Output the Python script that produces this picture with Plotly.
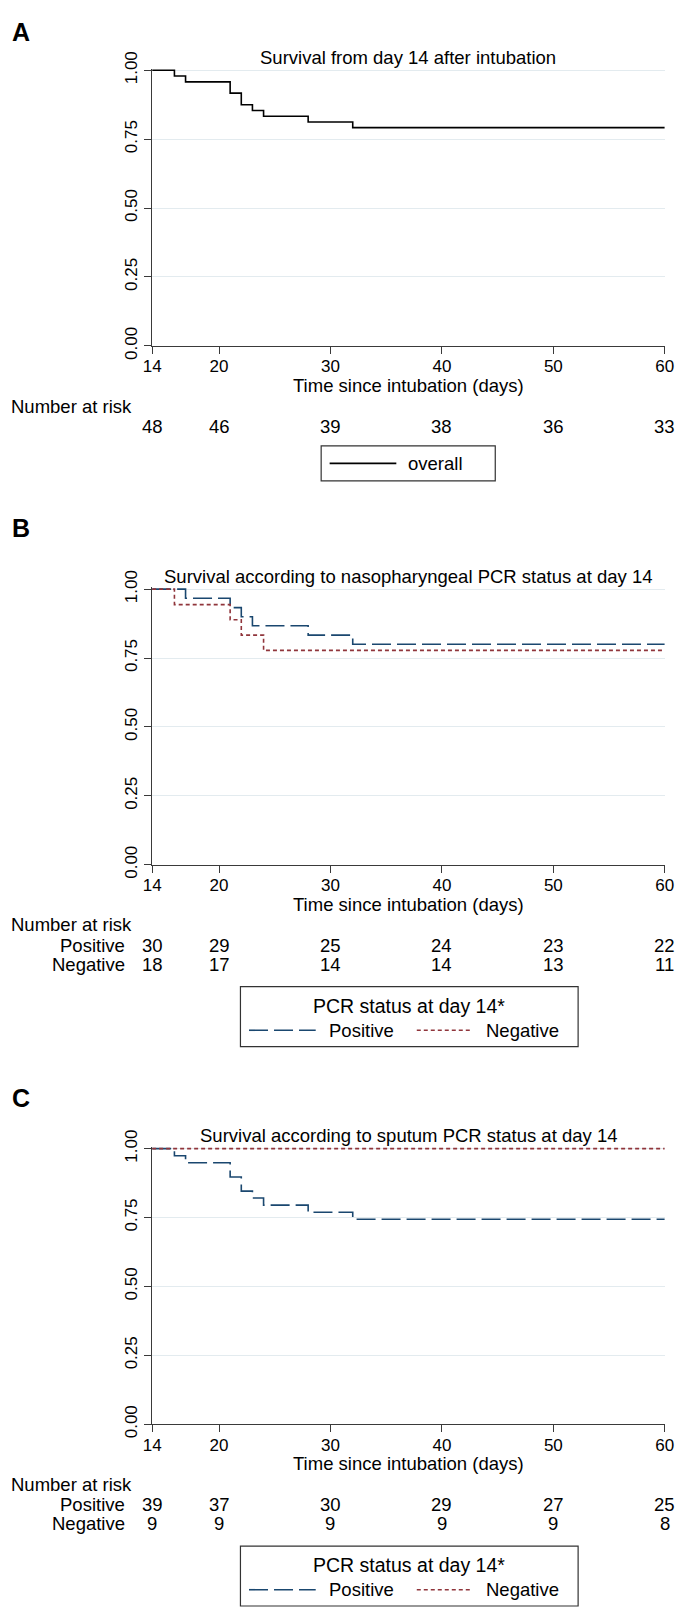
import plotly.graph_objects as go

W, H = 684, 1621

# ---------------- data ----------------
days_a = [14, 16, 17, 21, 22, 23, 24, 28, 32, 60]
surv_a = [1.0, 0.979, 0.958, 0.917, 0.875, 0.854, 0.833, 0.8125, 0.792, 0.792]

days_b_pos = [14, 17, 21, 22, 23, 28, 32, 60]
surv_b_pos = [1.0, 0.967, 0.933, 0.900, 0.867, 0.833, 0.800, 0.800]
days_b_neg = [14, 16, 21, 22, 24, 60]
surv_b_neg = [1.0, 0.944, 0.889, 0.833, 0.778, 0.778]

days_c_pos = [14, 16, 17, 21, 22, 23, 24, 28, 32, 60]
surv_c_pos = [1.0, 0.974, 0.949, 0.897, 0.846, 0.821, 0.795, 0.769, 0.744, 0.744]
days_c_neg = [14, 60]
surv_c_neg = [1.0, 1.0]

risk_times = [14, 20, 30, 40, 50, 60]
risk_a_overall = [48, 46, 39, 38, 36, 33]
risk_b_pos = [30, 29, 25, 24, 23, 22]
risk_b_neg = [18, 17, 14, 14, 13, 11]
risk_c_pos = [39, 37, 30, 29, 27, 25]
risk_c_neg = [9, 9, 9, 9, 9, 8]

x_ticks = [14, 20, 30, 40, 50, 60]
y_ticks = [0, 0.25, 0.5, 0.75, 1.0]
y_ticklabels = ["0.00", "0.25", "0.50", "0.75", "1.00"]

titles = ["Survival from day 14 after intubation",
          "Survival according to nasopharyngeal PCR status at day 14",
          "Survival according to sputum PCR status at day 14"]
panel_letters = ["A", "B", "C"]
x_title = "Time since intubation (days)"
legend_title = "PCR status at day 14*"
group_names = ["Positive", "Negative"]

# ---------------- style ----------------
FONT = "Liberation Sans, Arial, Helvetica, sans-serif"
C_POS = "#1a476f"
C_NEG = "#90353b"
GRID = "#e3ebef"
AX = "#3a3a3a"
DASH_POS = "19px,6px"
DASH_NEG = "4px,3px"


def px(x):
    return x / W


def py(y):
    return 1 - y / H


X0, X1 = 147.0, 673.5
SPAN = 281.0
tops = [54.3, 583.3, 1153.7]   # pixel y of 1.00
letter_y = [15.0, 521.0, 1102.0]
YMAX = 1.006

fig = go.Figure()

series = [
    [(days_a, surv_a, "overall", "black", "solid")],
    [(days_b_pos, surv_b_pos, group_names[0], C_POS, DASH_POS),
     (days_b_neg, surv_b_neg, group_names[1], C_NEG, DASH_NEG)],
    [(days_c_pos, surv_c_pos, group_names[0], C_POS, DASH_POS),
     (days_c_neg, surv_c_neg, group_names[1], C_NEG, DASH_NEG)],
]

annotations = []
shapes = []

for i in range(3):
    xa = "x" if i == 0 else f"x{i+1}"
    ya = "y" if i == 0 else f"y{i+1}"
    top1 = tops[i]
    zero = top1 + SPAN
    top_dom = top1 - (YMAX - 1.0) * SPAN
    for (xs, ys, nm, col, dash) in series[i]:
        fig.add_trace(go.Scatter(x=xs, y=ys, mode="lines", line_shape="hv",
                                 name=nm, showlegend=False,
                                 line=dict(color=col, width=1.6, dash=dash),
                                 xaxis=xa, yaxis=ya))
    xkey = "xaxis" if i == 0 else f"xaxis{i+1}"
    ykey = "yaxis" if i == 0 else f"yaxis{i+1}"
    fig.layout[xkey] = dict(domain=[px(X0), px(X1)], range=[14, 60],
                            anchor=ya, tickvals=x_ticks, ticks="outside",
                            ticklen=7, tickwidth=1.2, tickcolor=AX,
                            ticklabelstandoff=-2,
                            showline=True, linecolor=AX, linewidth=1.2,
                            showgrid=False, zeroline=False,
                            tickfont=dict(size=17, color="black", family=FONT))
    fig.layout[ykey] = dict(domain=[py(zero), py(top_dom)], range=[0, YMAX],
                            anchor=xa, tickvals=y_ticks, ticktext=y_ticklabels,
                            ticks="outside", ticklen=7, tickwidth=1.2,
                            tickcolor=AX, tickangle=-90,
                            showline=True, linecolor=AX, linewidth=1.2,
                            showgrid=True, gridcolor=GRID, gridwidth=1,
                            zeroline=False,
                            tickfont=dict(size=17, color="black", family=FONT))

    annotations.append(dict(text=f"<b>{panel_letters[i]}</b>", x=px(1), y=py(letter_y[i]),
                            xref="paper", yref="paper", xanchor="left", yanchor="middle",
                            showarrow=False, font=dict(size=25, family=FONT, color="black")))
    annotations.append(dict(text=titles[i], x=px((X0 + X1) / 2), y=py(top1 - 13),
                            xref="paper", yref="paper", xanchor="center", yanchor="middle",
                            showarrow=False, font=dict(size=18.5, family=FONT, color="black")))
    annotations.append(dict(text=x_title, x=px((X0 + X1) / 2), y=py(zero + 40.0),
                            xref="paper", yref="paper", xanchor="center", yanchor="middle",
                            showarrow=False, font=dict(size=18.5, family=FONT, color="black")))
    annotations.append(dict(text="Number at risk", x=0, y=py(zero + 61.3),
                            xref="paper", yref="paper", xanchor="left", yanchor="middle",
                            showarrow=False, font=dict(size=18.5, family=FONT, color="black")))
    if i == 0:
        rows = [(None, risk_a_overall)]
    elif i == 1:
        rows = [(group_names[0], risk_b_pos), (group_names[1], risk_b_neg)]
    else:
        rows = [(group_names[0], risk_c_pos), (group_names[1], risk_c_neg)]
    for r, (lab, vals) in enumerate(rows):
        yy = zero + 82.2 + r * 19.4
        if lab is not None:
            annotations.append(dict(text=lab, x=px(121.5), y=py(yy), xref="paper", yref="paper",
                                    xanchor="right", yanchor="middle", showarrow=False,
                                    font=dict(size=18.5, family=FONT, color="black")))
        for t, v in zip(risk_times, vals):
            annotations.append(dict(text=str(v), x=t, y=py(yy), xref=xa, yref="paper",
                                    xanchor="center", yanchor="middle", showarrow=False,
                                    font=dict(size=18.5, family=FONT, color="black")))

    if i == 0:
        bx0, bx1, by0, by1 = 320.6, 499.4, zero + 102.0, zero + 137.6
        shapes.append(dict(type="rect", xref="paper", yref="paper",
                           x0=px(bx0), x1=px(bx1), y0=py(by0), y1=py(by1),
                           line=dict(color="#333333", width=1.2), fillcolor="rgba(0,0,0,0)"))
        yi = (by0 + by1) / 2
        shapes.append(dict(type="line", xref="paper", yref="paper",
                           x0=px(329.3), x1=px(397.8), y0=py(yi), y1=py(yi),
                           line=dict(color="black", width=1.6)))
        annotations.append(dict(text="overall", x=px(408), y=py(yi), xref="paper", yref="paper",
                                xanchor="left", yanchor="middle", showarrow=False,
                                font=dict(size=18.5, family=FONT, color="black")))
    else:
        bx0, bx1, by0, by1 = 237.7, 584.5, zero + 124.3, zero + 185.3
        shapes.append(dict(type="rect", xref="paper", yref="paper",
                           x0=px(bx0), x1=px(bx1), y0=py(by0), y1=py(by1),
                           line=dict(color="#333333", width=1.2), fillcolor="rgba(0,0,0,0)"))
        annotations.append(dict(text=legend_title, x=px(411), y=py(by0 + 19.5),
                                xref="paper", yref="paper", xanchor="center", yanchor="middle",
                                showarrow=False, font=dict(size=19.5, family=FONT, color="black")))
        yi = by0 + 44.4
        for (sx0, sx1, tx, col, dash, nm) in [(246.5, 315.0, 326.5, C_POS, DASH_POS, group_names[0]),
                                              (418.8, 475.5, 487.5, C_NEG, DASH_NEG, group_names[1])]:
            shapes.append(dict(type="line", xref="paper", yref="paper",
                               x0=px(sx0), x1=px(sx1), y0=py(yi), y1=py(yi),
                               line=dict(color=col, width=1.6, dash=dash)))
            annotations.append(dict(text=nm, x=px(tx), y=py(yi), xref="paper", yref="paper",
                                    xanchor="left", yanchor="middle", showarrow=False,
                                    font=dict(size=18.5, family=FONT, color="black")))

fig.update_layout(width=W, height=H, margin=dict(l=0, r=0, t=0, b=0),
                  paper_bgcolor="white", plot_bgcolor="white",
                  showlegend=False, annotations=annotations, shapes=shapes,
                  font=dict(family=FONT, color="black"))

fig.write_html("out.html", config={"displayModeBar": False},
               post_script="document.body.style.margin='0px';"
                           "document.body.style.padding='0px';"
                           "document.body.style.overflow='hidden';")
